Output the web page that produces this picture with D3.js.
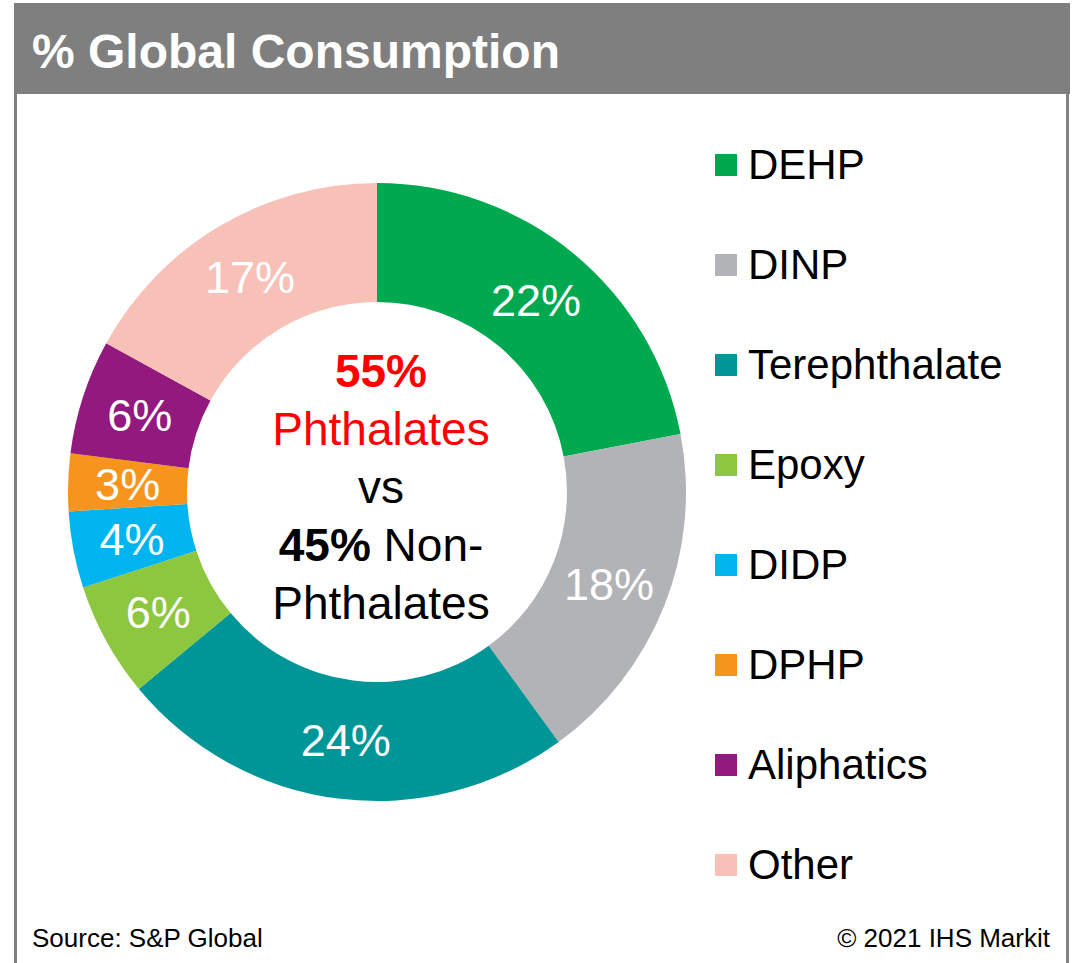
<!DOCTYPE html>
<html>
<head>
<meta charset="utf-8">
<script src="https://cdn.jsdelivr.net/npm/d3@7"></script>
<style>
  body { margin: 0; background: #fff; }
  text { font-family: "Liberation Sans", Arial, sans-serif; }
</style>
</head>
<body>
<div id="chart"></div>
<script>
// data
var categories = ["DEHP", "DINP", "Terephthalate", "Epoxy", "DIDP", "DPHP", "Aliphatics", "Other"];
var shares = [22, 18, 24, 6, 4, 3, 6, 17];
var colors = ["#00A94F", "#B1B3B6", "#009597", "#8DC63F", "#00B4EF", "#F7941D", "#92197E", "#F8C1B8"];
var centerLines = [
  [{t: "55%", bold: true, fill: "#FF0000"}],
  [{t: "Phthalates", bold: false, fill: "#FF0000"}],
  [{t: "vs", bold: false, fill: "#000"}],
  [{t: "45%", bold: true, fill: "#000"}, {t: " Non-", bold: false, fill: "#000"}],
  [{t: "Phthalates", bold: false, fill: "#000"}]
];

var width = 1081, height = 963;
var cx = 377, cy = 492;
var outerR = 309, innerR = 190;

var svg = d3.select("#chart").append("svg")
  .attr("width", width)
  .attr("height", height);

svg.append("rect").attr("width", width).attr("height", height).attr("fill", "#fff");

// frame + title bar
svg.append("line").attr("x1", 15.5).attr("x2", 15.5).attr("y1", 90).attr("y2", height)
  .attr("stroke", "#808080").attr("stroke-width", 3);
svg.append("line").attr("x1", 1067.5).attr("x2", 1067.5).attr("y1", 90).attr("y2", height)
  .attr("stroke", "#808080").attr("stroke-width", 3);
svg.append("rect")
  .attr("x", 14).attr("y", 3)
  .attr("width", 1056).attr("height", 91)
  .attr("fill", "#7F7F7F");
svg.append("text")
  .attr("x", 32).attr("y", 68)
  .attr("fill", "#fff")
  .attr("font-size", 48)
  .attr("font-weight", "bold")
  .text("% Global Consumption");

// donut
var data = categories.map(function(c, i) { return {name: c, value: shares[i], color: colors[i]}; });
var pie = d3.pie().sort(null).value(d => d.value);
var arc = d3.arc().innerRadius(innerR).outerRadius(outerR);
var labelArc = d3.arc().innerRadius((innerR + outerR) / 2).outerRadius((innerR + outerR) / 2);

var g = svg.append("g").attr("transform", `translate(${cx}, ${cy})`);
var arcs = pie(data);

g.selectAll("path")
  .data(arcs)
  .enter()
  .append("path")
  .attr("d", arc)
  .attr("fill", d => d.data.color);

g.selectAll("text.pct")
  .data(arcs)
  .enter()
  .append("text")
  .attr("class", "pct")
  .attr("transform", d => `translate(${labelArc.centroid(d)})`)
  .attr("text-anchor", "middle")
  .attr("dy", "0.36em")
  .attr("fill", "#fff")
  .attr("font-size", 45)
  .text(d => d.data.value + "%");

// center text
var centerText = svg.append("g");
centerLines.forEach(function(line, i) {
  var t = centerText.append("text")
    .attr("x", 381)
    .attr("y", 387 + i * 58)
    .attr("text-anchor", "middle")
    .attr("font-size", 46);
  line.forEach(function(part) {
    t.append("tspan")
      .attr("fill", part.fill)
      .attr("font-weight", part.bold ? "bold" : "normal")
      .attr("xml:space", "preserve")
      .text(part.t);
  });
});

// legend
var legend = svg.append("g").attr("transform", "translate(715, 0)");
var items = legend.selectAll("g")
  .data(data)
  .enter()
  .append("g")
  .attr("transform", (d, i) => `translate(0, ${i * 100})`);
items.append("rect")
  .attr("x", 0).attr("y", 154)
  .attr("width", 22).attr("height", 22)
  .attr("fill", d => d.color);
items.append("text")
  .attr("x", 33).attr("y", 179)
  .attr("font-size", 42)
  .attr("fill", "#000")
  .text(d => d.name);

// footer
svg.append("text")
  .attr("x", 32).attr("y", 947)
  .attr("font-size", 26)
  .text("Source: S&P Global");
svg.append("text")
  .attr("x", 1050).attr("y", 947)
  .attr("text-anchor", "end")
  .attr("font-size", 26)
  .text("\u00A9 2021 IHS Markit");
</script>
</body>
</html>
